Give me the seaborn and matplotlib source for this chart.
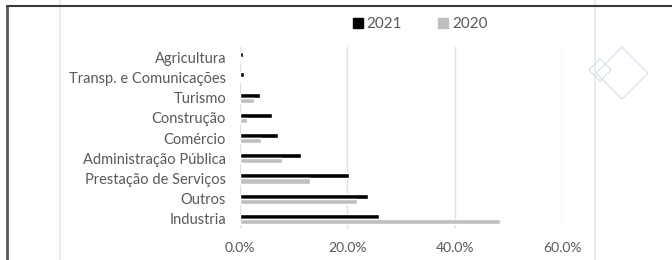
import matplotlib
matplotlib.use("Agg")
import matplotlib.pyplot as plt
from matplotlib.lines import Line2D
from matplotlib.ticker import PercentFormatter
import pandas as pd
import seaborn as sns

# values (share of total)
setores = ["Agricultura", "Transp. e Comunicações", "Turismo", "Construção", "Comércio",
           "Administração Pública", "Prestação de Serviços", "Outros", "Industria"]
v2021 = [0.005, 0.007, 0.038, 0.060, 0.071, 0.113, 0.203, 0.238, 0.259]
v2020 = [0.002, 0.002, 0.027, 0.013, 0.039, 0.078, 0.130, 0.218, 0.485]
anos = ["2021", "2020"]
cores = ["#000000", "#bfbfbf"]
xticks = [0, 0.2, 0.4, 0.6]

df = pd.DataFrame({
    "setor": setores * 2,
    "valor": v2021 + v2020,
    "ano": [anos[0]] * len(setores) + [anos[1]] * len(setores),
})

sns.set_theme(style="white")
plt.rcParams["font.family"] = ["Lato", "DejaVu Sans"]
txt = "#595959"

fig = plt.figure(figsize=(6.72, 2.6), dpi=100)
ax = fig.add_axes([240 / 672, 1 - 229 / 260, (562 - 240) / 672, (229 - 47) / 260])

sns.barplot(data=df, x="valor", y="setor", hue="ano", order=setores, hue_order=anos,
            palette=cores, width=0.5, orient="h", ax=ax, legend=False, saturation=1)

ax.set_xlim(0, 0.6)
ax.set_xticks(xticks)
ax.xaxis.set_major_formatter(PercentFormatter(1.0, decimals=1))
ax.grid(axis="x", color="#e0e0e0", linewidth=1)
ax.set_axisbelow(True)
for s in ax.spines.values():
    s.set_visible(False)
ax.set_xlabel("")
ax.set_ylabel("")
ax.tick_params(axis="x", length=0, pad=9, labelsize=10, labelcolor=txt)
ax.tick_params(axis="y", length=0, pad=10, labelsize=10.5, labelcolor=txt)

# legend at the top
handles = [Line2D([], [], marker="s", linestyle="", markersize=7, color=c) for c in cores]
fig.legend(handles, anos, loc="center", bbox_to_anchor=(419 / 672, 1 - 24 / 260), ncol=2,
           frameon=False, fontsize=11, labelcolor=txt, handletextpad=0.1, columnspacing=2.2,
           handlelength=1.0)

# chart area border and outer frame
fig.add_artist(Line2D([60 / 672, 60 / 672], [0, 1], transform=fig.transFigure, color="#ebebeb", lw=1.5))
fig.add_artist(Line2D([595 / 672, 595 / 672], [0, 1], transform=fig.transFigure, color="#ebebeb", lw=1.5))
fig.add_artist(Line2D([7 / 672, 7 / 672], [0, 1 - 6 / 260], transform=fig.transFigure, color="#5a5a5a", lw=2))
fig.add_artist(Line2D([7 / 672, 1], [1 - 6 / 260, 1 - 6 / 260], transform=fig.transFigure, color="#3a3a3a", lw=1.5))

# decorative diamonds on the right
def losango(cx, cy, r):
    xs = [cx, cx + r, cx, cx - r, cx]
    ys = [cy - r, cy, cy + r, cy, cy - r]
    fig.add_artist(Line2D([x / 672 for x in xs], [1 - y / 260 for y in ys], transform=fig.transFigure,
                          color="#cfe0f0", lw=0.8))

losango(622, 73, 26)
losango(600, 70, 11)

fig.savefig("out.png", dpi=100)
